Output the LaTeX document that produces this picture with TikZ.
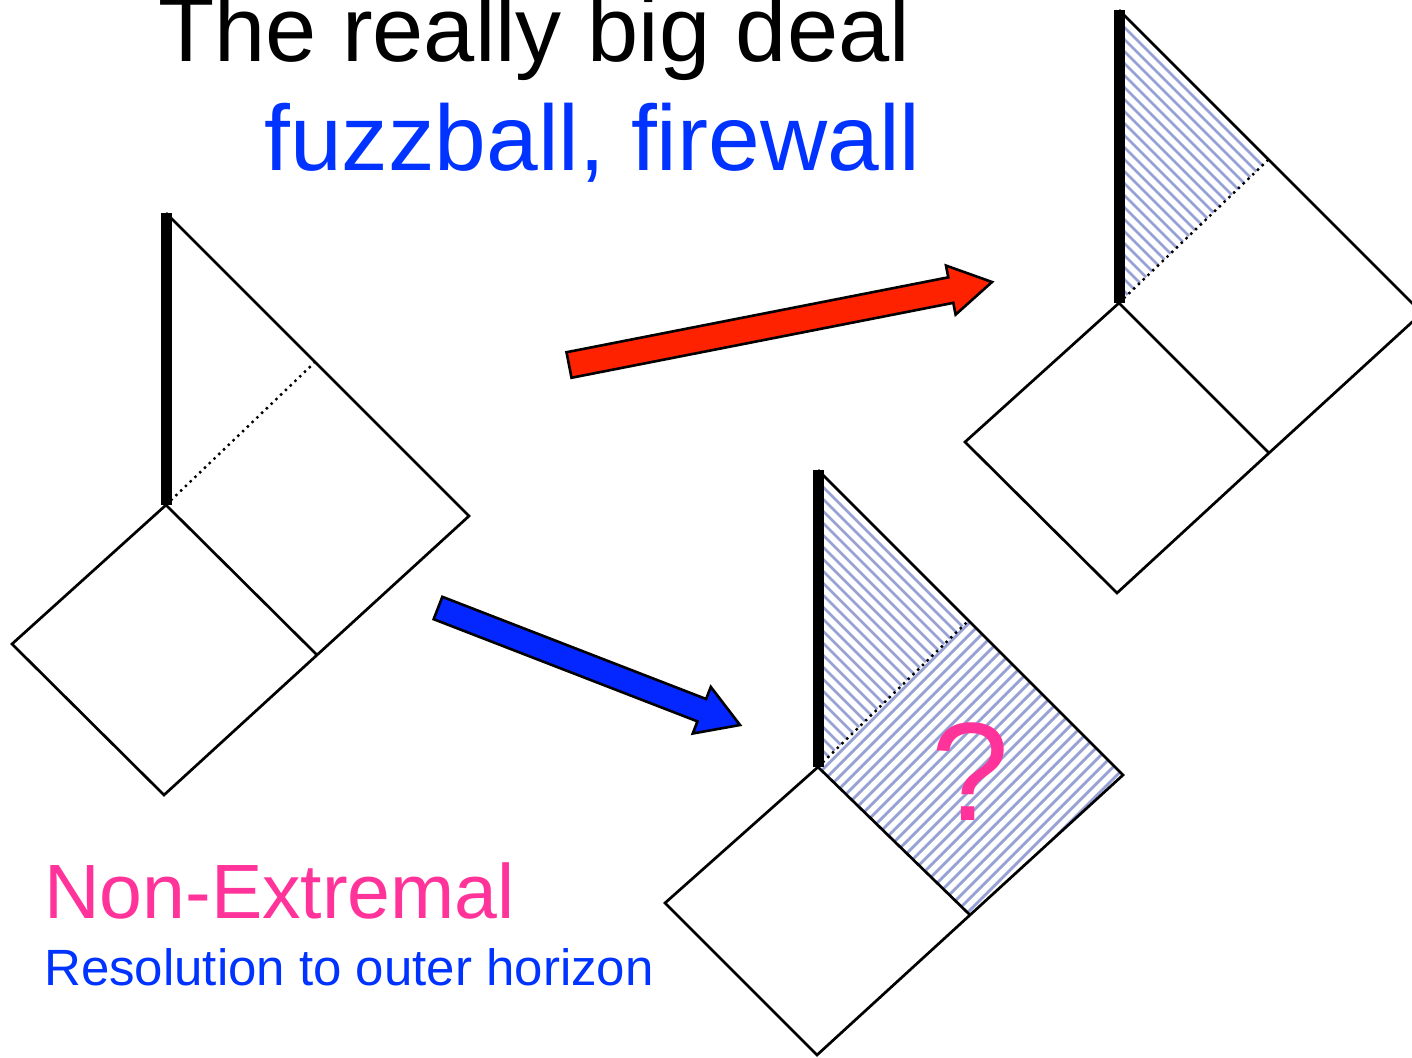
\documentclass[tikz,border=0pt]{standalone}
\usepackage{fontspec}
\setmainfont{Liberation Sans}
\usetikzlibrary{calc}
\definecolor{ink}{HTML}{000000}
\definecolor{headblue}{HTML}{0033FF}
\definecolor{hotpink}{HTML}{FF3399}
\definecolor{hatchc}{HTML}{97A1D6}
\definecolor{arrred}{HTML}{FF2200}
\definecolor{arrblue}{HTML}{0527FF}
\tikzset{
  wall/.style={draw=ink, line width=2.7pt, line join=miter},
  sing/.style={draw=ink, line width=11pt},
  horizon/.style={draw=ink, line width=2.4pt, dash pattern=on 2.4pt off 4.2pt},
  hatch/.style={draw=hatchc, line width=2.8pt},
  fat/.style={draw=ink, line width=2.6pt, line join=miter},
  lbl/.style={inner sep=0pt, anchor=base west}
}

\begin{document}
\begin{tikzpicture}[x=1pt,y=-1pt]
        \useasboundingbox (0,0) rectangle (1412,1057);
        \clip (0,0) rectangle (1412,1057);

        % headings
        \node[lbl, text=ink, font=\fontsize{92}{100}\selectfont] (title) at (158,61) {The really big deal};
        \node[lbl, text=headblue, font=\fontsize{93}{100}\selectfont] (sub) at (264,170) {fuzzball, firewall};

        % left diagram (starting geometry)
        \coordinate (lT) at (166,213);
        \coordinate (lA) at (166,505);
        \coordinate (lD) at (314,363);
        \coordinate (lF) at (469,516);
        \coordinate (lR) at (317,655);
        \coordinate (lB) at (164,795);
        \coordinate (lL) at (12,644);
        \draw[wall] (lT) -- (lF) -- (lR) -- (lB) -- (lL) -- (lA) -- (lR);
        \draw[horizon] (lA) -- (lD);
        \draw[sing] (lT) -- (lA);

        % right diagram: only the inner region replaced
        \coordinate (rT) at (1119,10);
        \coordinate (rA) at (1119,303);
        \coordinate (rD) at (1268,160);
        \coordinate (rF) at (1422,313);
        \coordinate (rR) at (1269,453);
        \coordinate (rB) at (1117,593);
        \coordinate (rL) at (965,442);
        \begin{scope}
          \clip (rT) -- (rD) -- (rA) -- cycle;
          \foreach \k in {0,12,...,300} {
            \draw[hatch] (1119,10+\k) -- ++(220,220);
          }
        \end{scope}
        \draw[wall] (rT) -- (rF) -- (rR) -- (rB) -- (rL) -- (rA) -- (rR);
        \draw[horizon] (rA) -- (rD);
        \draw[sing] (rT) -- (rA);

        % bottom diagram: resolved out to the outer horizon
        \coordinate (bT) at (818,470);
        \coordinate (bA) at (818,767);
        \coordinate (bD) at (968,621);
        \coordinate (bF) at (1123,775);
        \coordinate (bR) at (970,915);
        \coordinate (bB) at (817,1055);
        \coordinate (bL) at (665,903);
        \begin{scope}
          \clip (bT) -- (bD) -- (bA) -- cycle;
          \foreach \k in {0,12,...,300} {
            \draw[hatch] (818,470+\k) -- ++(220,220);
          }
        \end{scope}
        \begin{scope}
          \clip (bA) -- (bD) -- (bF) -- (bR) -- cycle;
          \foreach \k in {1580,1592,...,1910} {
            \draw[hatch] ({\k-1100},1100) -- ({\k-550},550);
          }
        \end{scope}
        \draw[wall] (bT) -- (bF) -- (bR) -- (bB) -- (bL) -- (bA) -- (bR);
        \draw[horizon] (bA) -- (bD);
        \draw[sing] (bT) -- (bA);
        \node[lbl, text=hotpink, font=\fontsize{140}{140}\selectfont] (qmark) at (931,820) {?};

        % red block arrow
        \coordinate (redtail) at (569,365);
        \coordinate (redtip) at (992,282);
        \coordinate (redneck) at ($(redtip)!42pt!(redtail)$);
        \filldraw[fat, fill=arrred] ($(redtail)!13pt!90:(redtip)$) -- ($(redneck)!13pt!-90:(redtail)$)
          -- ($(redneck)!25pt!-90:(redtail)$) -- (redtip) -- ($(redneck)!25pt!90:(redtail)$)
          -- ($(redneck)!13pt!90:(redtail)$) -- ($(redtail)!13pt!-90:(redtip)$) -- cycle;

        % blue block arrow
        \coordinate (bluetail) at (438,608);
        \coordinate (bluetip) at (740,725);
        \coordinate (blueneck) at ($(bluetip)!41pt!(bluetail)$);
        \filldraw[fat, fill=arrblue] ($(bluetail)!12pt!90:(bluetip)$) -- ($(blueneck)!12pt!-90:(bluetail)$)
          -- ($(blueneck)!25pt!-90:(bluetail)$) -- (bluetip) -- ($(blueneck)!25pt!90:(bluetail)$)
          -- ($(blueneck)!12pt!90:(bluetail)$) -- ($(bluetail)!12pt!-90:(bluetip)$) -- cycle;

        % captions
        \node[lbl, text=hotpink, font=\fontsize{77}{80}\selectfont] (kind) at (44,918) {Non-Extremal};
        \node[lbl, text=headblue, font=\fontsize{51}{55}\selectfont] (note) at (44,985) {Resolution to outer horizon};
\end{tikzpicture}
\end{document}
